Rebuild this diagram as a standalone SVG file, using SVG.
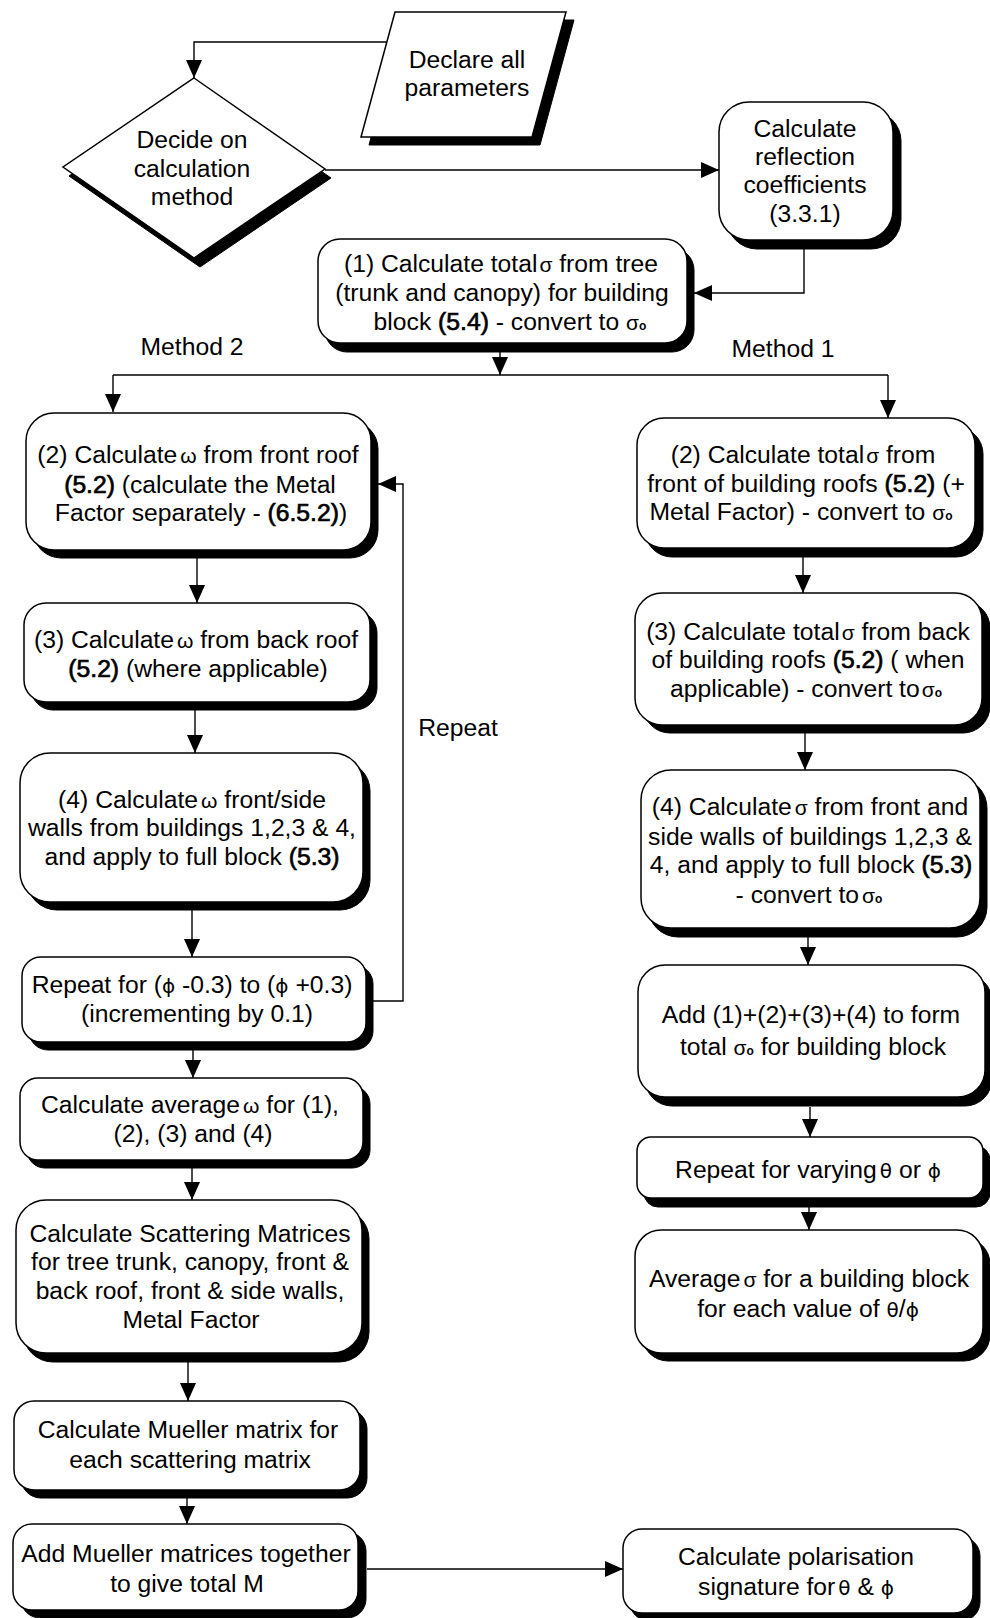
<svg xmlns="http://www.w3.org/2000/svg" width="990" height="1618" viewBox="0 0 990 1618">
<style>
.bg{fill:#fff}
.sh{fill:#000;stroke:#000;stroke-width:1}
.bx{fill:#fff;stroke:#000;stroke-width:1.5}
.t{font-family:"Liberation Sans",Arial,sans-serif;font-size:24.7px;text-anchor:middle;fill:#000}
.g{font-size:21px}
.p{font-family:"DejaVu Sans","Liberation Sans",sans-serif;font-size:20px}
.o{font-size:12px;font-weight:bold}
.b{stroke:#000;stroke-width:0.7}
.c{fill:none;stroke:#000;stroke-width:1.4}
</style>
<defs>
<marker id="ah" markerUnits="userSpaceOnUse" markerWidth="18" markerHeight="16" refX="18" refY="8" orient="auto" viewBox="0 0 18 16">
<path d="M0,0 L18,8 L0,16 z" fill="#000"/>
</marker>
</defs>
<rect class="bg" x="0" y="0" width="990" height="1618"/>

<g id="connectors">
<path class="c" d="M388,42 H194 V78" marker-end="url(#ah)"/>
<path class="c" d="M325,170 H719" marker-end="url(#ah)"/>
<path class="c" d="M804,249 V293 H694" marker-end="url(#ah)"/>
<path class="c" d="M500,352 V375" marker-end="url(#ah)"/>
<path class="c" d="M113,375 H888"/>
<path class="c" d="M113,375 V412" marker-end="url(#ah)"/>
<path class="c" d="M888,375 V418" marker-end="url(#ah)"/>
<path class="c" d="M197,555 V603" marker-end="url(#ah)"/>
<path class="c" d="M195,710 V753" marker-end="url(#ah)"/>
<path class="c" d="M192,910 V957" marker-end="url(#ah)"/>
<path class="c" d="M193,1050 V1078" marker-end="url(#ah)"/>
<path class="c" d="M192,1168 V1200" marker-end="url(#ah)"/>
<path class="c" d="M188,1362 V1401" marker-end="url(#ah)"/>
<path class="c" d="M187,1498 V1524" marker-end="url(#ah)"/>
<path class="c" d="M373,1001 H403 V484 H378" marker-end="url(#ah)"/>
<path class="c" d="M367,1569 H623" marker-end="url(#ah)"/>
<path class="c" d="M803,557 V593" marker-end="url(#ah)"/>
<path class="c" d="M805,733 V770" marker-end="url(#ah)"/>
<path class="c" d="M808,937 V965" marker-end="url(#ah)"/>
<path class="c" d="M810,1107 V1137" marker-end="url(#ah)"/>
<path class="c" d="M809,1207 V1230" marker-end="url(#ah)"/>
<text class="t" x="192" y="355">Method 2</text>
<text class="t" x="783" y="357">Method 1</text>
<text class="t" x="458" y="736">Repeat</text>
</g>

<g id="n-declare">
<polygon class="sh" points="403,20 574,20 540,145 369,145"/>
<polygon class="bx" points="395,12 566,12 532,137 361,137"/>
<text class="t" x="467" y="68">Declare all</text>
<text class="t" x="467" y="96">parameters</text>
</g>

<g id="n-decide">
<polygon class="sh" points="200,87 331,178 200,267 69,176"/>
<polygon class="bx" points="194,78 325,169 194,258 63,167"/>
<text class="t" x="192" y="148">Decide on</text>
<text class="t" x="192" y="177">calculation</text>
<text class="t" x="192" y="205">method</text>
</g>

<g id="n-reflection">
<rect class="sh" x="727" y="111" width="174" height="138" rx="30"/>
<rect class="bx" x="719" y="102" width="174" height="138" rx="30"/>
<text class="t" x="805" y="137">Calculate</text>
<text class="t" x="805" y="165">reflection</text>
<text class="t" x="805" y="193">coefficients</text>
<text class="t" x="805" y="222">(3.3.1)</text>
</g>

<g id="n-tree">
<rect class="sh" x="325" y="248" width="369" height="104" rx="22"/>
<rect class="bx" x="318" y="239" width="369" height="104" rx="22"/>
<text class="t" x="501" y="272">(1) Calculate total<tspan class="g" dx="2">σ</tspan> from tree</text>
<text class="t" x="502" y="301">(trunk and canopy) for building</text>
<text class="t" x="510" y="330">block <tspan class="b">(5.4)</tspan> - convert to  <tspan class="g">σ</tspan><tspan class="o">o</tspan></text>
</g>

<g id="n-l2">
<rect class="sh" x="33" y="421" width="345" height="137" rx="28"/>
<rect class="bx" x="26" y="413" width="345" height="137" rx="28"/>
<text class="t" x="198" y="463">(2) Calculate<tspan class="g" dx="3">ω</tspan> from front roof</text>
<text class="t" x="200" y="493"><tspan class="b">(5.2)</tspan>  (calculate the Metal</text>
<text class="t" x="201" y="521">Factor separately - <tspan class="b">(6.5.2)</tspan>)</text>
</g>

<g id="n-l3">
<rect class="sh" x="31" y="611" width="346" height="99" rx="22"/>
<rect class="bx" x="24" y="603" width="346" height="99" rx="22"/>
<text class="t" x="196" y="648">(3) Calculate<tspan class="g" dx="3">ω</tspan> from back roof</text>
<text class="t" x="198" y="677"><tspan class="b">(5.2)</tspan> (where applicable)</text>
</g>

<g id="n-l4">
<rect class="sh" x="27" y="761" width="343" height="149" rx="30"/>
<rect class="bx" x="20" y="753" width="343" height="149" rx="30"/>
<text class="t" x="192" y="808">(4) Calculate<tspan class="g" dx="3">ω</tspan>  front/side</text>
<text class="t" x="192" y="836">walls from buildings 1,2,3 &amp; 4,</text>
<text class="t" x="192" y="865">and apply to full block <tspan class="b">(5.3)</tspan></text>
</g>

<g id="n-l5">
<rect class="sh" x="29" y="965" width="344" height="85" rx="19"/>
<rect class="bx" x="22" y="957" width="344" height="85" rx="19"/>
<text class="t" x="192" y="993">Repeat for (<tspan class="p">ϕ</tspan> -0.3) to (<tspan class="p">ϕ</tspan> +0.3)</text>
<text class="t" x="197" y="1022">(incrementing by 0.1)</text>
</g>

<g id="n-l6">
<rect class="sh" x="27" y="1086" width="343" height="82" rx="18"/>
<rect class="bx" x="20" y="1078" width="343" height="82" rx="18"/>
<text class="t" x="190" y="1113">Calculate average<tspan class="g" dx="3">ω</tspan> for (1),</text>
<text class="t" x="193" y="1142">(2), (3) and (4)</text>
</g>

<g id="n-l7">
<rect class="sh" x="23" y="1209" width="346" height="153" rx="30"/>
<rect class="bx" x="16" y="1200" width="346" height="153" rx="30"/>
<text class="t" x="190" y="1242">Calculate Scattering Matrices</text>
<text class="t" x="190" y="1270">for tree trunk, canopy, front &amp;</text>
<text class="t" x="190" y="1299">back roof, front &amp; side walls,</text>
<text class="t" x="191" y="1328">Metal Factor</text>
</g>

<g id="n-l8">
<rect class="sh" x="21" y="1409" width="346" height="89" rx="20"/>
<rect class="bx" x="14" y="1401" width="346" height="89" rx="20"/>
<text class="t" x="188" y="1438">Calculate Mueller matrix for</text>
<text class="t" x="190" y="1468">each scattering matrix</text>
</g>

<g id="n-l9">
<rect class="sh" x="21" y="1532" width="345" height="86" rx="19"/>
<rect class="bx" x="13" y="1524" width="345" height="86" rx="19"/>
<text class="t" x="186" y="1562">Add Mueller matrices together</text>
<text class="t" x="187" y="1592">to give total M</text>
</g>

<g id="n-r2">
<rect class="sh" x="645" y="427" width="338" height="130" rx="27"/>
<rect class="bx" x="637" y="418" width="338" height="130" rx="27"/>
<text class="t" x="803" y="463">(2) Calculate total<tspan class="g" dx="2">σ</tspan> from</text>
<text class="t" x="806" y="492">front of building roofs <tspan class="b">(5.2)</tspan> (+</text>
<text class="t" x="801" y="520">Metal Factor) - convert to <tspan class="g">σ</tspan><tspan class="o">o</tspan></text>
</g>

<g id="n-r3">
<rect class="sh" x="643" y="601" width="347" height="132" rx="27"/>
<rect class="bx" x="635" y="593" width="347" height="132" rx="27"/>
<text class="t" x="808" y="640">(3) Calculate total<tspan class="g" dx="2">σ</tspan> from back</text>
<text class="t" x="808" y="668">of building roofs <tspan class="b">(5.2)</tspan> ( when</text>
<text class="t" x="806" y="697">applicable) - convert to<tspan class="g" dx="2">σ</tspan><tspan class="o">o</tspan></text>
</g>

<g id="n-r4">
<rect class="sh" x="648" y="778" width="339" height="159" rx="30"/>
<rect class="bx" x="641" y="770" width="339" height="158" rx="30"/>
<text class="t" x="810" y="815">(4) Calculate<tspan class="g" dx="3">σ</tspan> from front and</text>
<text class="t" x="810" y="845">side walls of buildings 1,2,3 &amp;</text>
<text class="t" x="811" y="873">4, and apply to full block <tspan class="b">(5.3)</tspan></text>
<text class="t" x="809" y="903">- convert to<tspan class="g" dx="3">σ</tspan><tspan class="o">o</tspan></text>
</g>

<g id="n-r5">
<rect class="sh" x="645" y="974" width="347" height="132" rx="27"/>
<rect class="bx" x="638" y="965" width="347" height="132" rx="27"/>
<text class="t" x="811" y="1023">Add (1)+(2)+(3)+(4) to form</text>
<text class="t" x="813" y="1055">total <tspan class="g">σ</tspan><tspan class="o">o</tspan> for building block</text>
</g>

<g id="n-r6">
<rect class="sh" x="644" y="1146" width="346" height="61" rx="14"/>
<rect class="bx" x="637" y="1137" width="346" height="61" rx="14"/>
<text class="t" x="808" y="1178">Repeat for varying<tspan class="p" dx="3">θ</tspan> or <tspan class="p">ϕ</tspan></text>
</g>

<g id="n-r7">
<rect class="sh" x="642" y="1238" width="348" height="123" rx="26"/>
<rect class="bx" x="635" y="1230" width="348" height="123" rx="26"/>
<text class="t" x="809" y="1287">Average<tspan class="g" dx="3">σ</tspan> for a building block</text>
<text class="t" x="808" y="1317">for each value of   <tspan class="p">θ</tspan>/<tspan class="p">ϕ</tspan></text>
</g>

<g id="n-r8">
<rect class="sh" x="630" y="1537" width="350" height="84" rx="19"/>
<rect class="bx" x="623" y="1529" width="350" height="84" rx="19"/>
<text class="t" x="796" y="1565">Calculate polarisation</text>
<text class="t" x="796" y="1595">signature for<tspan class="p" dx="3">θ</tspan> &amp; <tspan class="p">ϕ</tspan></text>
</g>
</svg>
